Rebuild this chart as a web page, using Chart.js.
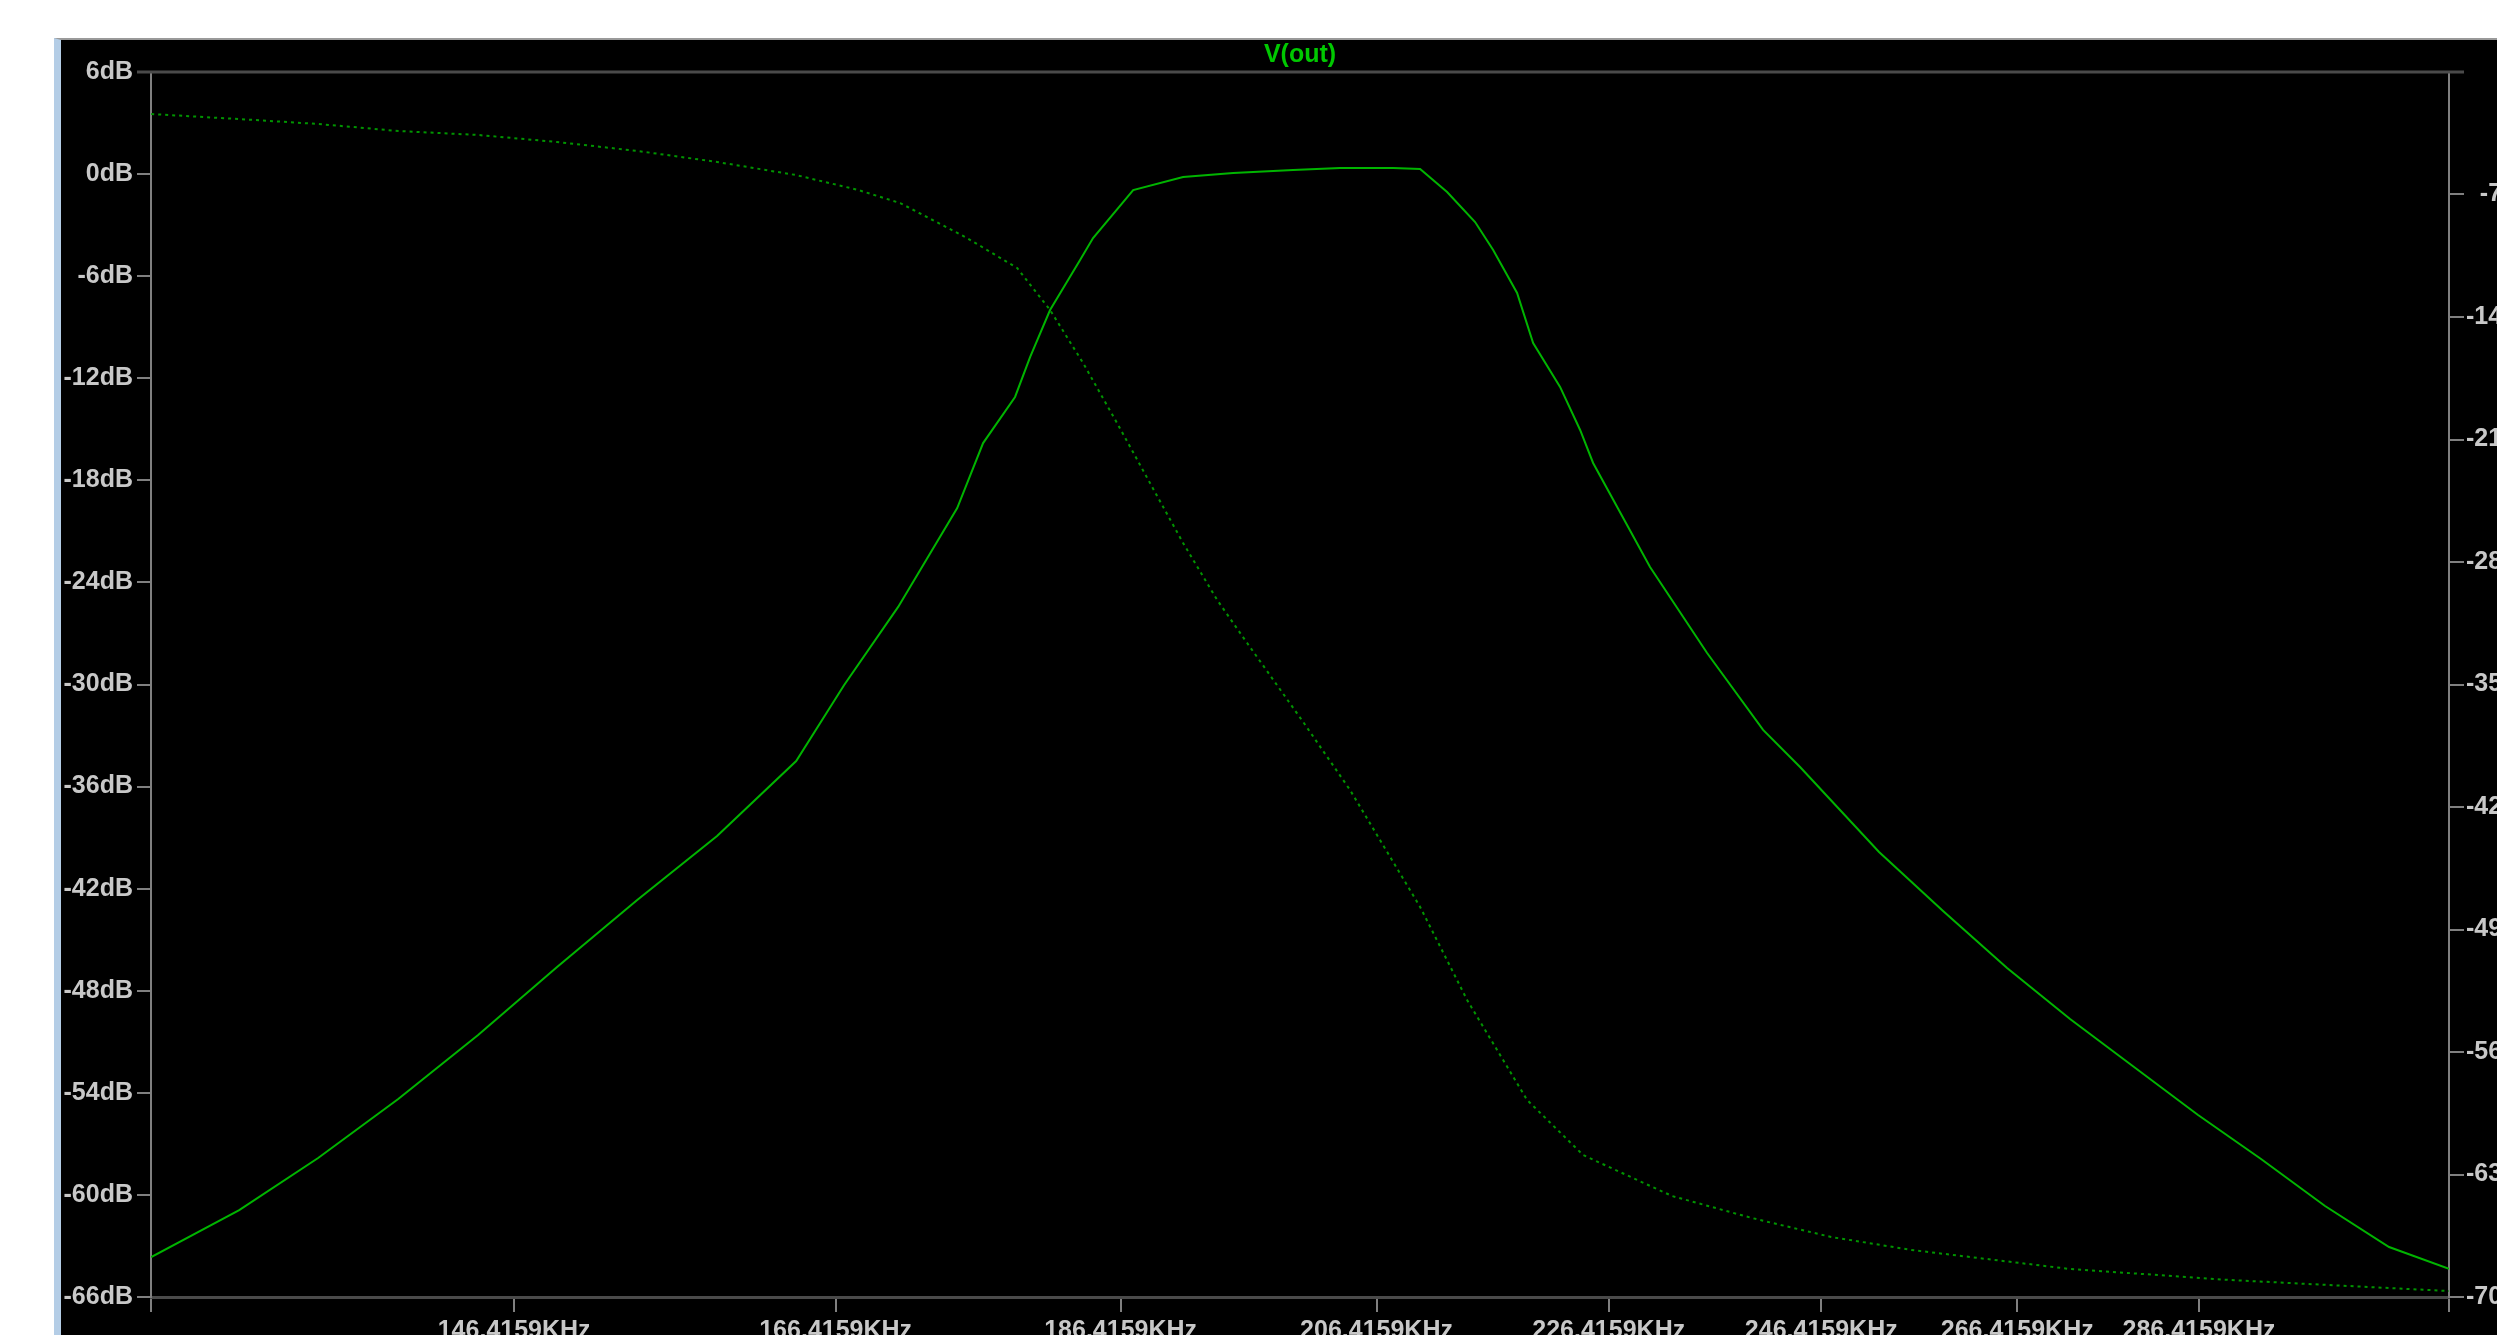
<!DOCTYPE html>
<html>
<head>
<meta charset="utf-8">
<title>V(out)</title>
<script src="https://cdn.jsdelivr.net/npm/chart.js@4.4.0/dist/chart.umd.min.js"></script>
<style>
  html, body { margin: 0; padding: 0; background: #fff; overflow: hidden; width: 2497px; height: 1335px; }
  #panel {
    position: absolute; left: 54px; top: 38px;
    width: 2600px; height: 1380px;
    border-left: 7px solid #b4cde6; border-top: 2px solid #9a9a9a;
    background: #000;
  }
</style>
</head>
<body>
<div id="panel"><canvas id="bode"></canvas></div>
<script>
// AC sweep of V(out). freq in kHz (log axis)
var magFreq = [126.71, 131.23, 135.42, 139.81, 144.33, 148.94, 153.77, 158.74, 163.82, 166.98,
               170.61, 174.67, 176.48, 178.74, 179.82, 181.25, 183.43, 184.38, 187.35, 191.11,
               194.96, 199.67, 203.44, 207.78, 210.03, 212.30, 214.68, 216.23, 218.30, 219.70,
               222.07, 223.85, 225.01, 230.17, 235.46, 240.77, 244.34, 252.15, 258.66, 265.34,
               272.08, 279.10, 286.31, 293.58, 301.16, 308.94, 316.40];
var magDb = [-63.65, -60.89, -57.83, -54.36, -50.60, -46.60, -42.67, -38.90, -34.50, -30.03,
             -25.44, -19.63, -15.81, -13.10, -10.75, -7.99, -5.05, -3.76, -0.94, -0.17,
             0.06, 0.24, 0.36, 0.36, 0.30, -1.05, -2.82, -4.46, -6.99, -9.93,
             -12.51, -15.04, -16.98, -23.09, -28.15, -32.67, -34.85, -39.84, -43.31, -46.66,
             -49.66, -52.48, -55.30, -57.89, -60.65, -63.06, -64.35];

var phaseFreq = [126.71, 131.23, 135.42, 139.81, 144.33, 148.94, 153.77, 158.74, 163.82, 167.91,
                 170.75, 175.36, 178.89, 181.25, 183.65, 186.15, 188.61, 191.11, 193.72, 196.05,
                 200.47, 204.25, 210.03, 214.00, 219.17, 224.12, 232.20, 239.72, 247.38, 255.39,
                 272.08, 289.98, 316.40];
var phaseDeg = [-24.0, -26.9, -29.7, -33.7, -36.0, -40.0, -45.1, -51.4, -58.9, -67.4,
                -74.9, -94.9, -112.0, -136.0, -166.3, -200.6, -234.9, -269.1, -301.7, -326.3,
                -371.4, -410.3, -477.1, -530.3, -587.4, -618.9, -642.3, -654.9, -665.7, -673.1,
                -684.0, -690.3, -696.6];

var fMin = 126.7, fMax = 316.4;
var freqTicks = [146.4159, 166.4159, 186.4159, 206.4159, 226.4159, 246.4159, 266.4159, 286.4159];
var freqLabels = ['146.4159KHz', '166.4159KHz', '186.4159KHz', '206.4159KHz',
                  '226.4159KHz', '246.4159KHz', '266.4159KHz', '286.4159KHz'];
var phaseTicks = [0, -70, -140, -210, -280, -350, -420, -490, -560, -630, -700];
var phaseLabels = ['', '-70°', '-140°', '-210°', '-280°', '-350°', '-420°', '-490°', '-560°', '-630°', '-700°'];

Chart.defaults.font.family = "'Liberation Sans', Arial, sans-serif";
var labelFont = { size: 25, weight: 'bold' };
var labelColor = '#c8c8c8';

// dark frame line along the top of the plot
var topFrame = {
  id: 'topFrame',
  beforeDatasetsDraw: function(chart) {
    var a = chart.chartArea, ctx = chart.ctx;
    ctx.save();
    ctx.strokeStyle = '#4a4a4a';
    ctx.lineWidth = 3;
    ctx.beginPath();
    ctx.moveTo(a.left - 14, a.top);
    ctx.lineTo(a.right + 15, a.top);
    ctx.stroke();
    ctx.restore();
  }
};

var ctx = document.getElementById('bode');
var chart = new Chart(ctx, {
  type: 'line',
  data: {
    datasets: [
      {
        label: 'V(out) dB',
        data: magFreq.map(function(f, i) { return { x: f, y: magDb[i] }; }),
        yAxisID: 'y',
        borderColor: '#00b400',
        borderWidth: 2,
        pointRadius: 0,
        tension: 0
      },
      {
        label: 'V(out) phase',
        data: phaseFreq.map(function(f, i) { return { x: f, y: phaseDeg[i] }; }),
        yAxisID: 'y2',
        borderColor: '#009400',
        borderWidth: 2,
        borderDash: [3, 4],
        pointRadius: 0,
        tension: 0
      }
    ]
  },
  options: {
    responsive: true,
    maintainAspectRatio: false,
    animation: false,
    devicePixelRatio: 1,
    layout: { padding: { left: 0, right: 135, top: 0, bottom: 63 } },
    plugins: {
      legend: { display: false },
      tooltip: { enabled: false },
      title: {
        display: true,
        text: 'V(out)',
        color: '#00c800',
        fullSize: false,
        font: { size: 25, weight: 'bold', lineHeight: 1 },
        padding: { top: 3, bottom: 4 }
      }
    },
    scales: {
      x: {
        type: 'logarithmic',
        position: 'bottom',
        min: fMin,
        max: fMax,
        afterBuildTicks: function(s) {
          s.ticks = [fMin].concat(freqTicks, [fMax]).map(function(v) { return { value: v }; });
        },
        afterFit: function(s) { s.height = 60; },
        grid: { drawOnChartArea: false, drawTicks: true, tickLength: 15, color: '#808080', lineWidth: 2 },
        border: { color: '#4a4a4a', width: 3 },
        ticks: {
          color: labelColor, font: labelFont, padding: 4,
          maxRotation: 0, autoSkip: false,
          callback: function(v, i) {
            return (i === 0 || i > freqTicks.length) ? '' : freqLabels[i - 1];
          }
        }
      },
      y: {
        position: 'left',
        min: -66,
        max: 6,
        afterFit: function(s) { s.width = 90; },
        grid: { drawOnChartArea: false, tickLength: 14, color: '#808080', lineWidth: 2 },
        border: { color: '#808080', width: 2 },
        ticks: {
          stepSize: 6, color: labelColor, font: labelFont, padding: 4,
          callback: function(v) { return v + 'dB'; }
        }
      },
      y2: {
        position: 'right',
        min: -700,
        max: 0,
        afterBuildTicks: function(s) {
          s.ticks = phaseTicks.map(function(v) { return { value: v }; });
        },
        afterFit: function(s) { s.width = 77; },
        grid: { drawOnChartArea: false, tickLength: 15, color: '#808080', lineWidth: 2 },
        border: { color: '#808080', width: 2 },
        ticks: {
          color: labelColor, font: labelFont, padding: 4, crossAlign: 'far', autoSkip: false,
          callback: function(v, i) { return phaseLabels[i]; }
        }
      }
    }
  },
  plugins: [topFrame]
});
</script>
</body>
</html>
